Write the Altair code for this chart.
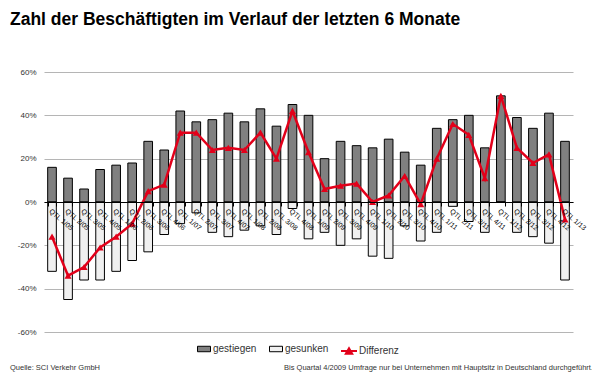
import altair as alt
import pandas as pd

quarters = [f"QTL {q}/{y:02d}" for y in range(5, 13) for q in range(1, 5)] + ["QTL 1/13"]

gestiegen = [16, 11, 6, 15, 17, 18, 28, 24, 42, 37, 38, 41, 37, 43, 35, 45, 40,
             20, 28, 26, 25, 29, 23, 17, 34, 38, 40, 25, 49, 39, 34, 41, 28]
gesunken = [-32, -45, -36, -36, -32, -27, -23, -15, -10, -5, -14, -16, -13, -11, -15, -3, -17,
            -14, -20, -17, -25, -26, -11, -18, -14, -2, -9, -14, 0, -14, -16, -19, -36]
differenz = [-16, -34, -30, -21, -16, -10, 5, 8, 32, 32, 24, 25, 24, 32, 20, 42, 23,
             6, 7.5, 8.5, 0, 3, 12, -1, 20, 36, 31, 11, 49, 25, 18, 22, -8]

RED = "#e2001a"
FONT = "Liberation Sans"

bars_df = pd.DataFrame(
    [{"quarter": q, "series": "gestiegen", "value": v} for q, v in zip(quarters, gestiegen)]
    + [{"quarter": q, "series": "gesunken", "value": v} for q, v in zip(quarters, gesunken)]
)
line_df = pd.DataFrame({"quarter": quarters, "series": "Differenz", "value": differenz})

W, H = 529, 260

x_enc = alt.X(
    "quarter:N",
    sort=quarters,
    scale=alt.Scale(paddingInner=0.46, paddingOuter=0.23),
    axis=alt.Axis(
        title=None,
        offset=-H / 2,
        labelAngle=40,
        labelAlign="left",
        labelBaseline="top",
        labelFontSize=7,
        labelFont=FONT,
        labelColor="#000000",
        labelPadding=1,
        labelOverlap=False,
        domainColor="#000000",
        domainWidth=1.2,
        tickColor="#000000",
        tickSize=4,
        tickBand="extent",
        grid=False,
        zindex=1,
    ),
)
y_enc = alt.Y(
    "value:Q",
    scale=alt.Scale(domain=[-60, 60], nice=False),
    axis=alt.Axis(
        title=None,
        values=[-60, -40, -20, 0, 20, 40, 60],
        labelExpr="datum.value + '%'",
        labelFontSize=8,
        labelFont=FONT,
        labelColor="#333333",
        labelPadding=8,
        domain=False,
        ticks=False,
        grid=True,
        gridColor="#b5b5b5",
        gridWidth=1,
    ),
)

bars = alt.Chart(bars_df).mark_bar(stroke="#000000", strokeWidth=1).encode(
    x=x_enc,
    y=y_enc,
    fill=alt.Fill(
        "series:N",
        scale=alt.Scale(domain=["gestiegen", "gesunken"], range=["#808080", "#f0f0f0"]),
        legend=alt.Legend(
            title=None,
            orient="none",
            direction="horizontal",
            legendX=153,
            legendY=270,
            symbolType="M-1,-0.42L1,-0.42L1,0.42L-1,0.42Z",
            symbolSize=169,
            symbolStrokeColor="#000000",
            symbolStrokeWidth=1,
            labelFontSize=10,
            labelFont=FONT,
            labelColor="#333333",
            labelOffset=2,
            columnPadding=10,
        ),
    ),
)

line = alt.Chart(line_df).mark_line(strokeWidth=2.5).encode(
    x=alt.X("quarter:N", sort=quarters),
    y="value:Q",
    stroke=alt.Stroke(
        "series:N",
        scale=alt.Scale(domain=["Differenz"], range=[RED]),
        legend=alt.Legend(
            title=None,
            orient="none",
            direction="horizontal",
            legendX=296,
            legendY=270,
            symbolType="M-1,0L1,0M-0.4,0.35L0,-0.35L0.4,0.35Z",
            symbolSize=256,
            symbolStrokeWidth=2,
            symbolFillColor=RED,
            symbolStrokeColor=RED,
            labelFontSize=10,
            labelFont=FONT,
            labelColor="#333333",
            labelOffset=1,
        ),
    ),
)

points = alt.Chart(line_df).mark_point(
    shape="triangle-up", filled=True, size=50, color=RED, opacity=1
).encode(x=alt.X("quarter:N", sort=quarters), y="value:Q")

notes_left = alt.Chart(pd.DataFrame({"t": ["Quelle: SCI Verkehr GmbH"]})).mark_text(
    align="left", baseline="middle", fontSize=7.5, font=FONT, color="#333333"
).encode(text="t:N", x=alt.value(-34), y=alt.value(296))

notes_right = alt.Chart(pd.DataFrame({"t": [
    "Bis Quartal 4/2009 Umfrage nur bei Unternehmen mit Hauptsitz in Deutschland durchgeführt."
]})).mark_text(
    align="right", baseline="middle", fontSize=7.5, font=FONT, color="#333333"
).encode(text="t:N", x=alt.value(549), y=alt.value(296))

chart = alt.layer(bars, line, points, notes_left, notes_right).resolve_legend(
    fill="independent", stroke="independent"
).properties(
    width=W,
    height=H,
    autosize=alt.AutoSizeParams(type="none"),
    padding={"left": 36, "top": 64, "right": 19, "bottom": 42},
    title=alt.TitleParams(
        "Zahl der Beschäftigten im Verlauf der letzten 6 Monate",
        anchor="start",
        dx=0,
        offset=40,
        fontSize=17.5,
        font=FONT,
        fontWeight="bold",
        color="#000000",
    ),
).configure_view(stroke=None)

chart.save("out.html", embed_options={"renderer": "svg", "actions": False})
